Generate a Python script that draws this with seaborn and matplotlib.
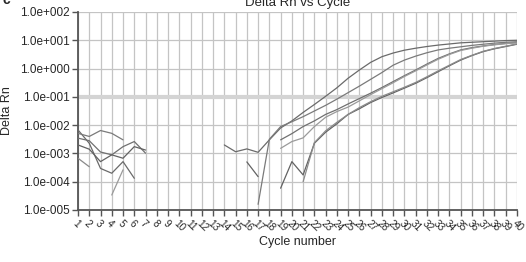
import numpy as np
import pandas as pd
import matplotlib
matplotlib.use('Agg')
import matplotlib.pyplot as plt
import matplotlib.ticker as mticker
import seaborn as sns

# Ciclos del eje x.
cycles = np.arange(1, 41)

# log10(Delta Rn): (ciclo inicial, valores) por tramo.
a_early = (1, [-2.17, -2.64, -3.53, -3.70, -3.29, -3.88])
a_late = (14, [-2.70, -2.94, -2.84, -2.96, -2.52, -2.10, -1.85, -1.55, -1.27,
               -0.98, -0.68, -0.34, -0.05, 0.22, 0.42, 0.55, 0.65, 0.72, 0.78,
               0.83, 0.87, 0.91, 0.93, 0.95, 0.97, 0.99, 1.00])
b_early = (1, [-2.29, -2.40, -2.19, -2.29, -2.52])
b_late = (17, [-4.80, -2.50, -2.05, -1.88, -1.70, -1.50, -1.30, -1.08, -0.85,
               -0.62, -0.38, -0.14, 0.12, 0.30, 0.44, 0.56, 0.66, 0.72, 0.77,
               0.82, 0.86, 0.90, 0.93, 0.95])
c_early = (1, [-2.46, -2.55, -2.95, -3.05, -2.76, -2.58, -2.99])
c_late = (19, [-2.52, -2.30, -2.05, -1.85, -1.62, -1.45, -1.25, -1.06, -0.87,
               -0.67, -0.46, -0.25, -0.05, 0.16, 0.36, 0.52, 0.66, 0.74, 0.80,
               0.85, 0.89, 0.92])
d_early = (1, [-2.70, -2.85, -3.29, -3.05, -3.17, -2.76, -2.88])
d_late = (16, [-3.30, -3.82, np.nan, -4.23, -3.29, -3.76, -2.64, -2.25, -1.95,
               -1.62, -1.42, -1.20, -1.02, -0.86, -0.69, -0.52, -0.32, -0.11,
               0.10, 0.30, 0.46, 0.60, 0.70, 0.78, 0.86])
e_early = (1, [-3.17, -3.47])
e_late = (21, [-4.00, -2.62, -2.20, -1.90, -1.62, -1.38, -1.17, -0.98, -0.82,
               -0.66, -0.49, -0.29, -0.08, 0.12, 0.32, 0.47, 0.61, 0.71, 0.79,
               0.87])
f_early = (4, [-4.47, -3.58])
f_late = (19, [-2.82, -2.58, -2.45, -2.05, -1.72, -1.52, -1.36, -1.14, -0.92,
               -0.71, -0.50, -0.28, -0.08, 0.13, 0.33, 0.50, 0.64, 0.72, 0.79,
               0.84, 0.88, 0.91])

wells = {
    'A': [a_early, a_late],
    'B': [b_early, b_late],
    'C': [c_early, c_late],
    'D': [d_early, d_late],
    'E': [e_early, e_late],
    'F': [f_early, f_late],
}
colores = {'A': '#6a6a6a', 'B': '#7a7a7a', 'C': '#707070',
           'D': '#626262', 'E': '#8a8a8a', 'F': '#9a9a9a'}

# Tabla larga: cada tramo contiguo es una unidad (para dejar los huecos).
filas = []
seg = 0
for pozo, tramos in wells.items():
    for inicio, valores in tramos:
        for i, v in enumerate(valores):
            if np.isnan(v):
                seg += 1
                continue
            filas.append({'pozo': pozo, 'seg': seg, 'ciclo': inicio + i,
                          'rn': 10 ** v})
        seg += 1
df = pd.DataFrame(filas)

sns.set_style('white')
plt.rcParams['font.family'] = ['Liberation Sans', 'DejaVu Sans']

fig = plt.figure(figsize=(5.26, 2.62), dpi=100)
ax = fig.add_axes([78 / 526, 1 - 210 / 262, 439 / 526, 198 / 262])

# Rejilla.
for c in cycles:
    ax.axvline(c, color='#c4c4c4', lw=0.9, zorder=0)
for e in range(-5, 3):
    if e == -1:
        ax.axhline(10.0 ** e, color='#d4d4d4', lw=3, zorder=0)
    else:
        ax.axhline(10.0 ** e, color='#c4c4c4', lw=0.9, zorder=0)

sns.lineplot(data=df, x='ciclo', y='rn', hue='pozo', units='seg',
             estimator=None, palette=colores, lw=0.9, legend=False, ax=ax,
             zorder=3)

ax.set_yscale('log')
ax.set_ylim(1e-5, 1e2)
ax.set_xlim(1, 40)
ax.yaxis.set_major_locator(mticker.LogLocator(base=10, numticks=10))
ax.yaxis.set_minor_locator(mticker.NullLocator())
ax.yaxis.set_major_formatter(
    mticker.FuncFormatter(lambda v, p: '1.0e%+04d' % int(round(np.log10(v)))))
ax.set_xticks(cycles)
ax.set_xticklabels([str(c) for c in cycles], rotation=-45, ha='left',
                   va='top', rotation_mode='anchor', fontsize=7.2)
ax.tick_params(axis='y', labelsize=8.5, length=4, width=1, color='#555555',
               direction='out', left=True, pad=2)
ax.tick_params(axis='x', length=4, width=1, color='#555555',
               direction='out', bottom=True, pad=2)

for s in ['top', 'right']:
    ax.spines[s].set_visible(False)
for s in ['left', 'bottom']:
    ax.spines[s].set_color('#555555')
    ax.spines[s].set_linewidth(1.3)

ax.set_xlabel('Cycle number', fontsize=9, labelpad=2)
ax.set_ylabel('Delta Rn', fontsize=9, labelpad=5)
ax.annotate('Delta Rn vs Cycle', xy=(0.5, 1), xycoords='axes fraction',
            xytext=(0, 4), textcoords='offset points', ha='center',
            va='baseline', fontsize=9.5)
fig.text(0.004, 1 - 4 / 262, 'c', fontsize=10, fontweight='bold',
         va='baseline')

fig.savefig('out.png', dpi=100)
